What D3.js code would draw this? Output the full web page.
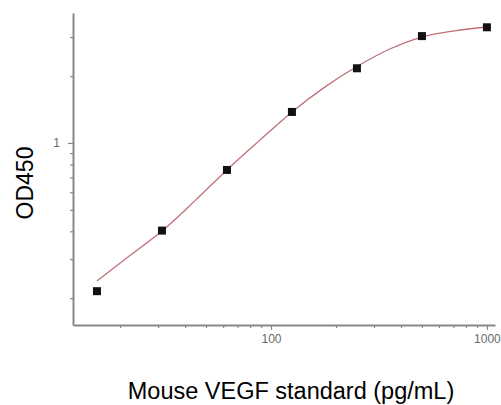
<!DOCTYPE html>
<html lang="en">
<head>
  <meta charset="utf-8">
  <title>Mouse VEGF standard curve</title>
  <script src="https://d3js.org/d3.v7.min.js"></script>
  <style>
    body { margin: 0; background: #fff; }
    svg { display: block; font-family: "Liberation Sans", Arial, sans-serif; }
  </style>
</head>
<body>
<script>
// standard points (pg/mL vs OD450)
var concentrations = [15.625, 31.25, 62.5, 125, 250, 500, 1000];
var odValues = [0.215, 0.403, 0.756, 1.38, 2.17, 3.03, 3.32];

// fitted curve
var fitConc = [15.625, 22.2, 31.25, 44.5, 62.5, 88.9, 125, 178, 250, 355, 500, 709, 1000];
var fitOD = [0.239, 0.311, 0.401, 0.55, 0.756, 1.03, 1.38, 1.79, 2.21, 2.65, 3.0, 3.2, 3.33];

// ticks
var xMajor = [100, 1000];
var xMinor = [20, 30, 40, 50, 60, 70, 80, 90, 200, 300, 400, 500, 600, 700, 800, 900];
var yMajor = [1];
var yMinor = [0.2, 0.3, 0.4, 0.5, 0.6, 0.7, 0.8, 0.9, 2, 3];

var w = 501, h = 405;
var axisGray = "#888";

var svg = d3.select("body").append("svg")
  .attr("width", w)
  .attr("height", h);

var x = d3.scaleLog().domain([12.1, 1090]).range([73, 495]);
var y = d3.scaleLog().domain([0.1514, 3.85]).range([325, 13]);

// x axis: minor then major
var gxMinor = svg.append("g")
  .attr("transform", "translate(0,325)")
  .call(d3.axisBottom(x).tickValues(xMinor).tickSize(3).tickSizeOuter(0).tickFormat(""));
gxMinor.select(".domain").remove();

var gx = svg.append("g")
  .attr("transform", "translate(0,325)")
  .call(d3.axisBottom(x).tickValues(xMajor).tickSize(5).tickSizeOuter(0).tickPadding(4).tickFormat(d3.format("d")));

// y axis
var gyMinor = svg.append("g")
  .attr("transform", "translate(73,0)")
  .call(d3.axisLeft(y).tickValues(yMinor).tickSize(3).tickSizeOuter(0).tickFormat(""));
gyMinor.select(".domain").remove();

var gy = svg.append("g")
  .attr("transform", "translate(73,0)")
  .call(d3.axisLeft(y).tickValues(yMajor).tickSize(5).tickSizeOuter(0).tickPadding(8).tickFormat(d3.format("d")));

svg.selectAll(".domain").attr("stroke", axisGray).attr("stroke-width", 2);
svg.selectAll(".tick line").attr("stroke", axisGray).attr("stroke-width", 1.2);
svg.selectAll(".tick text")
  .attr("fill", "#6a6a6a")
  .style("font-size", "12px")
  .style("font-family", "'Liberation Sans', Arial, sans-serif");

// fitted curve
var fitData = fitConc.map(function (c, i) { return { c: c, od: fitOD[i] }; });
var line = d3.line()
  .x(function (d) { return x(d.c); })
  .y(function (d) { return y(d.od); })
  .curve(d3.curveMonotoneX);

svg.append("path")
  .datum(fitData)
  .attr("d", line)
  .attr("fill", "none")
  .attr("stroke", "#c07078")
  .attr("stroke-width", 1.3);

// points
var pts = concentrations.map(function (c, i) { return { c: c, od: odValues[i] }; });
svg.selectAll("rect.pt")
  .data(pts)
  .enter()
  .append("rect")
  .attr("class", "pt")
  .attr("x", function (d) { return x(d.c) - 4; })
  .attr("y", function (d) { return y(d.od) - 4; })
  .attr("width", 8)
  .attr("height", 8)
  .attr("fill", "#111");

// axis labels
svg.append("text")
  .attr("x", 291)
  .attr("y", 399)
  .attr("text-anchor", "middle")
  .style("font-size", "23.5px")
  .attr("fill", "#000")
  .text("Mouse VEGF standard (pg/mL)");

svg.append("text")
  .attr("transform", "translate(33,183) rotate(-90)")
  .attr("text-anchor", "middle")
  .style("font-size", "23px")
  .attr("fill", "#000")
  .text("OD450");
</script>
</body>
</html>
